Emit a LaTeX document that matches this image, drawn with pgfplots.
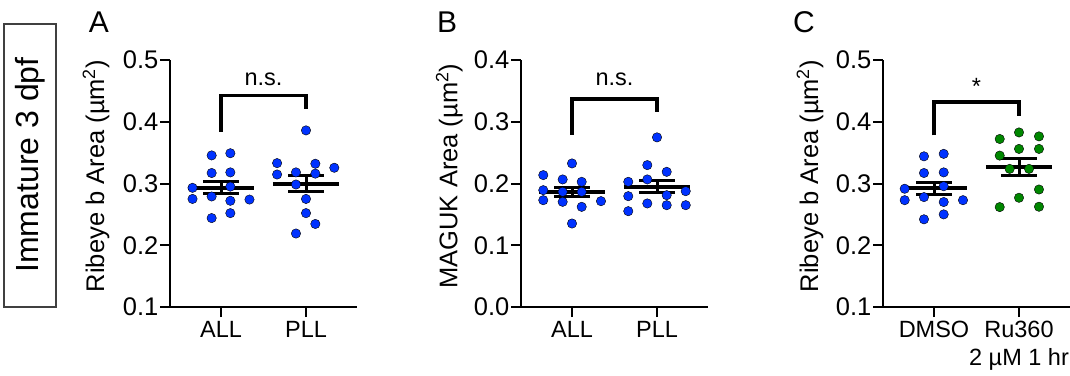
\documentclass[border=0pt]{standalone}
\usepackage{pgfplots}
\pgfplotsset{compat=1.18}
\usepackage{fontspec}
\setmainfont{Liberation Sans}
\definecolor{dotblue}{RGB}{0,50,255}
\definecolor{dotgreen}{RGB}{0,135,0}
\pgfplotsset{
  panel/.style={
    scale only axis, width=187pt, height=247pt,
    xmin=0.4, xmax=2.6, xtick={1,2},
    axis x line*=bottom, axis y line*=left,
    axis line style={line width=2pt},
    tick align=outside, major tick length=10pt,
    tick style={line width=2pt, black},
    yticklabel style={font=\fontsize{25.5}{30}\selectfont, inner sep=1.5pt},
    /pgf/number format/fixed, /pgf/number format/fixed zerofill,
    /pgf/number format/precision=1, /pgf/number format/assume math mode=true,
    xticklabel style={font=\fontsize{23.5}{28}\selectfont, align=center, anchor=north, inner sep=1pt, yshift=-3pt},
    ylabel style={font=\fontsize{25.5}{30}\selectfont, anchor=center},
    clip=false,
  },
  dots/.style={only marks, mark=*, mark size=4.7pt, mark options={draw=none, fill=#1}},
  meanl/.style={black, line width=4pt, forget plot},
  semL/.style={black, line width=3pt, forget plot},
}
\begin{document}
\begin{tikzpicture}
\draw[line width=1.5pt, black!75] (4pt,68pt) rectangle (56pt,351pt);
\node[rotate=90, font=\fontsize{32}{36}\selectfont] at (30pt,210pt) {Immature 3 dpf};
\node[font=\fontsize{30}{34}\selectfont] at (99pt,353pt) {A};
\node[font=\fontsize{30}{34}\selectfont] at (447pt,353pt) {B};
\node[font=\fontsize{30}{34}\selectfont] at (804pt,353pt) {C};

% ---------- Panel A
\begin{axis}[panel, at={(170pt,68pt)}, anchor=south west, ymin=0.1, ymax=0.5, ytick={0.1,0.2,0.3,0.4,0.5},
  xticklabels={ALL,PLL}, ylabel={Ribeye b Area (µm\textsuperscript{2})},
  ylabel style={at={(axis description cs:-0.395,0.53)}}]
\addplot[dots=dotblue] coordinates {
(0.89,0.3455) (1.11,0.349) (0.89,0.317) (1.11,0.318) (0.665,0.293) (1.11,0.295)
(0.665,0.275) (0.89,0.279) (1.11,0.272) (1.335,0.274) (0.89,0.244) (1.11,0.252)};
\addplot[dots=dotblue] coordinates {
(2,0.386) (1.66,0.333) (2.11,0.332) (2.333,0.3255) (1.66,0.3146) (1.882,0.318)
(2.11,0.316) (1.882,0.2984) (2,0.275) (2,0.252) (2.11,0.2345) (1.882,0.219)};
\addplot[meanl] coordinates {(0.61,0.293) (1.39,0.293)};
\addplot[semL] coordinates {(1,0.283) (1,0.303)};
\addplot[semL] coordinates {(0.79,0.303) (1.21,0.303)};
\addplot[semL] coordinates {(0.79,0.283) (1.21,0.283)};
\addplot[meanl] coordinates {(1.61,0.300) (2.39,0.300)};
\addplot[semL] coordinates {(2,0.2865) (2,0.3135)};
\addplot[semL] coordinates {(1.79,0.3135) (2.21,0.3135)};
\addplot[semL] coordinates {(1.79,0.2865) (2.21,0.2865)};
\draw[line width=3.2pt, line join=miter] (axis cs:1,0.384) -- (axis cs:1,0.443) -- (axis cs:2,0.443) -- (axis cs:2,0.42);
\node[font=\fontsize{23.5}{28}\selectfont, anchor=base] at (axis cs:1.5,0.459) {n.s.};
\end{axis}

% ---------- Panel B
\begin{axis}[panel, at={(521pt,68pt)}, anchor=south west, ymin=0, ymax=0.4, ytick={0,0.1,0.2,0.3,0.4},
  xticklabels={ALL,PLL}, ylabel={MAGUK Area (µm\textsuperscript{2})},
  ylabel style={at={(axis description cs:-0.384,0.53)}}]
\addplot[dots=dotblue] coordinates {
(0.662,0.2136) (0.662,0.1892) (0.662,0.173) (0.89,0.2066) (0.89,0.1865) (0.89,0.1703)
(1,0.2325) (1.114,0.2027) (1.114,0.1865) (1.114,0.1622) (1.341,0.1714) (1,0.1352)};
\addplot[dots=dotblue] coordinates {
(2,0.2747) (1.886,0.2298) (2.114,0.2189) (1.886,0.2066) (1.662,0.2027) (1.662,0.1795)
(2.114,0.1811) (2.338,0.1876) (1.886,0.1677) (2.114,0.1649) (2.338,0.1649) (1.662,0.1552)};
\addplot[meanl] coordinates {(0.61,0.1865) (1.39,0.1865)};
\addplot[semL] coordinates {(1,0.1792) (1,0.1938)};
\addplot[semL] coordinates {(0.79,0.1938) (1.21,0.1938)};
\addplot[semL] coordinates {(0.79,0.1792) (1.21,0.1792)};
\addplot[meanl] coordinates {(1.61,0.1946) (2.39,0.1946)};
\addplot[semL] coordinates {(2,0.1851) (2,0.2041)};
\addplot[semL] coordinates {(1.79,0.2041) (2.21,0.2041)};
\addplot[semL] coordinates {(1.79,0.1851) (2.21,0.1851)};
\draw[line width=3.2pt, line join=miter] (axis cs:1,0.279) -- (axis cs:1,0.337) -- (axis cs:2,0.337) -- (axis cs:2,0.316);
\node[font=\fontsize{23.5}{28}\selectfont, anchor=base] at (axis cs:1.5,0.3595) {n.s.};
\end{axis}

% ---------- Panel C
\begin{axis}[panel, at={(883pt,68pt)}, anchor=south west, ymin=0.1, ymax=0.5, ytick={0.1,0.2,0.3,0.4,0.5},
  xticklabels={DMSO,{Ru360\\2 µM 1 hr}}, ylabel={Ribeye b Area (µm\textsuperscript{2})},
  ylabel style={at={(axis description cs:-0.39,0.53)}}]
\addplot[dots=dotblue] coordinates {
(0.882,0.344) (1.114,0.348) (0.882,0.317) (1.114,0.318) (0.655,0.2915) (1.114,0.2956)
(0.655,0.273) (0.882,0.278) (1.114,0.270) (1.341,0.273) (0.882,0.242) (1.114,0.250)};
\addplot[dots=dotgreen] coordinates {
(2,0.3827) (1.773,0.3721) (2.235,0.3763) (2,0.356) (2.235,0.356) (1.773,0.3452)
(1.89,0.3237) (2.118,0.3237) (2.235,0.2903) (2,0.2769) (1.773,0.2618) (2.235,0.2624)};
\addplot[meanl] coordinates {(0.61,0.292) (1.39,0.292)};
\addplot[semL] coordinates {(1,0.282) (1,0.302)};
\addplot[semL] coordinates {(0.79,0.302) (1.21,0.302)};
\addplot[semL] coordinates {(0.79,0.282) (1.21,0.282)};
\addplot[meanl] coordinates {(1.61,0.327) (2.39,0.327)};
\addplot[semL] coordinates {(2,0.3137) (2,0.3403)};
\addplot[semL] coordinates {(1.79,0.3403) (2.21,0.3403)};
\addplot[semL] coordinates {(1.79,0.3137) (2.21,0.3137)};
\draw[line width=3.2pt, line join=miter] (axis cs:1,0.378) -- (axis cs:1,0.432) -- (axis cs:2,0.432) -- (axis cs:2,0.41);
\node[font=\fontsize{23.5}{28}\selectfont] at (axis cs:1.5,0.4565) {*};
\end{axis}
\pgfresetboundingbox
\path[use as bounding box] (0,0) rectangle (1070pt,375pt);
\end{tikzpicture}
\end{document}
